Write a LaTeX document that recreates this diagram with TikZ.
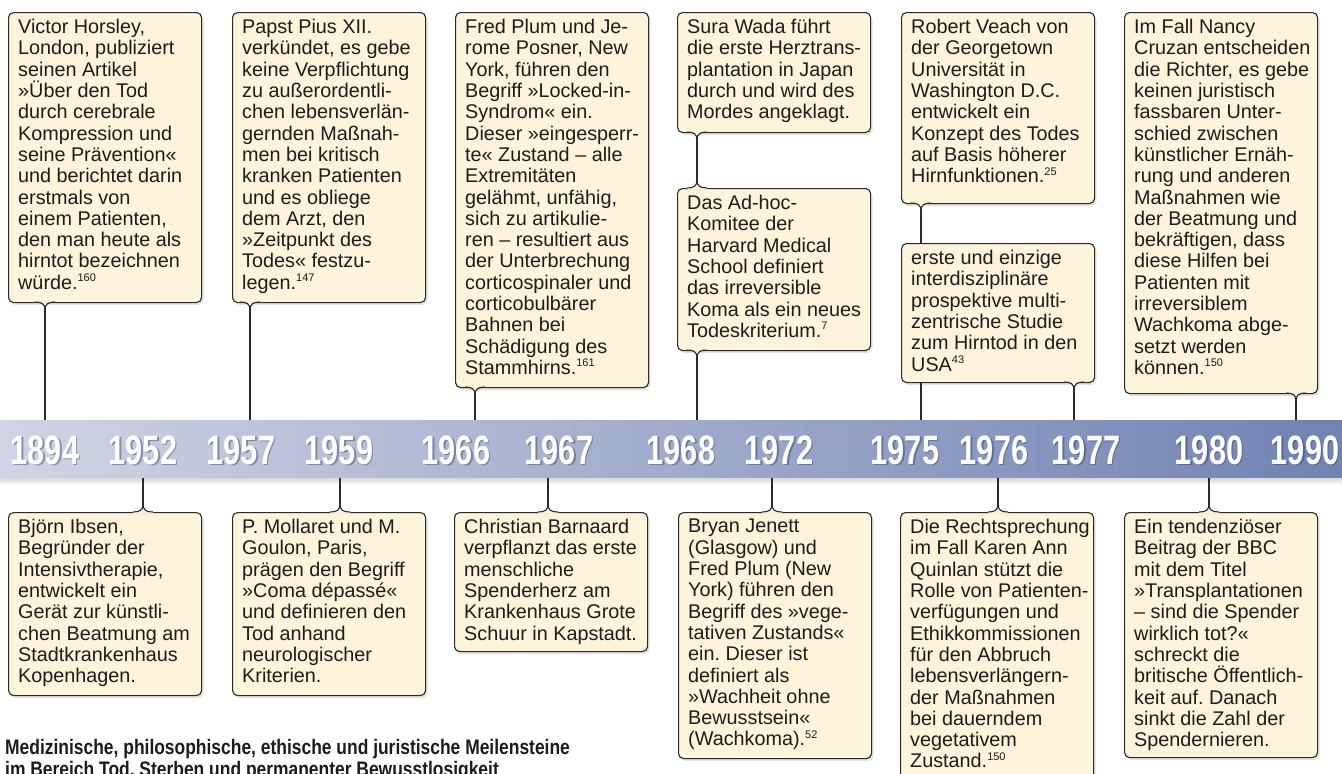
\documentclass[tikz,border=0pt]{standalone}
\usepackage{fontspec}
\setmainfont{Liberation Sans}
\newfontfamily\yearfam[FakeStretch=0.75]{Liberation Sans}
\newfontfamily\capfam[FakeStretch=0.83]{Liberation Sans}
\usetikzlibrary{positioning,shadows}
\frenchspacing
\definecolor{cardfill}{HTML}{FDF4DB}
\definecolor{cardline}{HTML}{2A2A2A}
\definecolor{cardtext}{HTML}{1C1C1C}
\definecolor{bandleft}{RGB}{208,212,228}
\definecolor{bandmid}{RGB}{163,174,202}
\definecolor{bandright}{RGB}{112,131,178}
\definecolor{yearshade}{HTML}{384266}
\newcommand{\cardfont}{\fontsize{19.8}{21.3}\selectfont}
\newcommand{\fnref}[1]{\textsuperscript{\fontsize{11}{11}\selectfont #1}}
% curly tail below a card (x, bottom edge)
\newcommand{\tailbelow}[2]{%
  \fill[cardfill] (#1-10,#2-1.6) -- (#1-10,#2) .. controls (#1-3,#2) and (#1,#2+2) .. (#1,#2+8)
    .. controls (#1,#2+2) and (#1+3,#2) .. (#1+10,#2) -- (#1+10,#2-1.6) -- cycle;
  \draw[cardline,line width=1.1pt] (#1-10,#2) .. controls (#1-3,#2) and (#1,#2+2) .. (#1,#2+8)
    .. controls (#1,#2+2) and (#1+3,#2) .. (#1+10,#2);}
% curly tail above a card (x, top edge)
\newcommand{\tailabove}[2]{%
  \fill[cardfill] (#1-10,#2+1.6) -- (#1-10,#2) .. controls (#1-3,#2) and (#1,#2-2) .. (#1,#2-8)
    .. controls (#1,#2-2) and (#1+3,#2) .. (#1+10,#2) -- (#1+10,#2+1.6) -- cycle;
  \draw[cardline,line width=1.1pt] (#1-10,#2) .. controls (#1-3,#2) and (#1,#2-2) .. (#1,#2-8)
    .. controls (#1,#2-2) and (#1+3,#2) .. (#1+10,#2);}
\tikzset{
  card/.style={draw=cardline, line width=1.1pt, fill=cardfill, rounded corners=5pt,
    anchor=north west, inner sep=0pt, minimum width=193pt,
    drop shadow={opacity=0.22, shadow xshift=2pt, shadow yshift=-2.5pt}},
  cardtxt/.style={anchor=north west, inner sep=0pt, align=left, font=\cardfont,
    text=cardtext, execute at begin node=\strut},
  link/.style={draw=cardline, line width=1.4pt},
  yearlbl/.style={anchor=base, inner sep=0pt, text=white,
    font=\yearfam\bfseries\fontsize{41}{41}\selectfont},
  yearglow/.style={yearlbl, text=yearshade, opacity=0.45},
  caption/.style={anchor=base west, inner sep=0pt, text=cardtext,
    font=\capfam\bfseries\fontsize{21}{23}\selectfont}
}
\begin{document}
\begin{tikzpicture}[x=1pt, y=-1pt]
\useasboundingbox (0,0) rectangle (1342,774);

% timeline band
\shade[left color=bandleft, middle color=bandmid, right color=bandright] (0,420) rectangle (1342,478);
\shade[top color=black!15, bottom color=white] (0,478) rectangle (1342,485);
\foreach \yr/\xx in {1894/45, 1952/143, 1957/241, 1959/339, 1966/456, 1967/559, 1968/681,
    1972/779, 1975/905, 1976/994, 1977/1086, 1980/1209, 1990/1305}{
  \node[yearglow] at (\xx+1.5,465.5) {\yr};
  \node[yearlbl] (y\yr) at (\xx,464) {\yr};
}
\foreach \yr/\xx in {1894/45, 1957/250, 1966/475, 1968/697, 1975/921, 1977/1074, 1990/1296}
  \coordinate (t\yr) at (\xx,420);
\foreach \yr/\xx in {1952/143, 1959/340, 1967/548, 1972/772, 1976/998, 1980/1209}
  \coordinate (b\yr) at (\xx,478);

% cards above
\node[card, minimum height=290] (horsley) at (8,12) {};
\node[card, minimum height=290] (papst) at (232,12) {};
\node[card, minimum height=375] (plum) at (455,12) {};
\node[card, minimum height=120] (wada) at (677,12) {};
\node[card, minimum height=162] (adhoc) at (677,188) {};
\node[card, minimum height=191] (veach) at (901,12) {};
\node[card, minimum height=139] (study) at (901,243) {};
\node[card, minimum height=381] (cruzan) at (1124,12) {};
% cards below
\node[card, minimum height=183] (ibsen) at (8,512) {};
\node[card, minimum height=183] (mollaret) at (232,512) {};
\node[card, minimum height=139] (barnaard) at (454,512) {};
\node[card, minimum height=246] (jenett) at (678,512) {};
\node[card, minimum height=267] (quinlan) at (900,512) {};
\node[card, minimum height=245] (bbc) at (1124,512) {};

\begin{scope}[link]
  \path (horsley.south -| t1894) edge (t1894);
  \path (papst.south -| t1957) edge (t1957);
  \path (plum.south -| t1966) edge (t1966);
  \path (wada.south -| t1968) edge (adhoc.north -| t1968);
  \path (adhoc.south -| t1968) edge (t1968);
  \path (veach.south -| t1975) edge (study.north -| t1975);
  \path (study.south -| t1975) edge (t1975);
  \path (study.south -| t1977) edge (t1977);
  \path (cruzan.south -| t1990) edge (t1990);
  \path (b1952) edge (ibsen.north -| b1952);
  \path (b1959) edge (mollaret.north -| b1959);
  \path (b1967) edge (barnaard.north -| b1967);
  \path (b1972) edge (jenett.north -| b1972);
  \path (b1976) edge (quinlan.north -| b1976);
  \path (b1980) edge (bbc.north -| b1980);
\end{scope}

\tailbelow{45}{302} \tailbelow{250}{302} \tailbelow{475}{387}
\tailbelow{697}{132} \tailbelow{697}{350} \tailbelow{921}{203}
\tailbelow{1074}{382} \tailbelow{1296}{393}
\tailabove{697}{188} \tailabove{143}{512} \tailabove{340}{512}
\tailabove{548}{512} \tailabove{772}{512} \tailabove{998}{512} \tailabove{1209}{512}

% card texts
\node[cardtxt] (horsley-t) at ([shift={(10,7.1)}]horsley.north west) {Victor Horsley,\\London, publiziert\\seinen Artikel\\»Über den Tod\\durch cerebrale\\Kompression und\\seine Prävention«\\und berichtet darin\\erstmals von\\einem Patienten,\\den man heute als\\hirntot bezeichnen\\würde.\fnref{160}};
\node[cardtxt] (papst-t) at ([shift={(10,7.1)}]papst.north west) {Papst Pius XII.\\verkündet, es gebe\\keine Verpflichtung\\zu außerordentli-\\chen lebensverlän-\\gernden Maßnah-\\men bei kritisch\\kranken Patienten\\und es obliege\\dem Arzt, den\\»Zeitpunkt des\\Todes« festzu-\\legen.\fnref{147}};
\node[cardtxt] (plum-t) at ([shift={(10,7.1)}]plum.north west) {Fred Plum und Je-\\rome Posner, New\\York, führen den\\Begriff »Locked-in-\\Syndrom« ein.\\Dieser »eingesperr-\\te« Zustand – alle\\Extremitäten\\gelähmt, unfähig,\\sich zu artikulie-\\ren – resultiert aus\\der Unterbrechung\\corticospinaler und\\corticobulbärer\\Bahnen bei\\Schädigung des\\Stammhirns.\fnref{161}};
\node[cardtxt] (wada-t) at ([shift={(10,7.1)}]wada.north west) {Sura Wada führt\\die erste Herztrans-\\plantation in Japan\\durch und wird des\\Mordes angeklagt.};
\node[cardtxt] (adhoc-t) at ([shift={(10,7.1)}]adhoc.north west) {Das Ad-hoc-\\Komitee der\\Harvard Medical\\School definiert\\das irreversible\\Koma als ein neues\\Todeskriterium.\fnref{7}};
\node[cardtxt] (veach-t) at ([shift={(10,7.1)}]veach.north west) {Robert Veach von\\der Georgetown\\Universität in\\Washington D.C.\\entwickelt ein\\Konzept des Todes\\auf Basis höherer\\Hirnfunktionen.\fnref{25}};
\node[cardtxt] (study-t) at ([shift={(10,7.1)}]study.north west) {erste und einzige\\interdisziplinäre\\prospektive multi-\\zentrische Studie\\zum Hirntod in den\\USA\fnref{43}};
\node[cardtxt] (cruzan-t) at ([shift={(10,7.1)}]cruzan.north west) {Im Fall Nancy\\Cruzan entscheiden\\die Richter, es gebe\\keinen juristisch\\fassbaren Unter-\\schied zwischen\\künstlicher Ernäh-\\rung und anderen\\Maßnahmen wie\\der Beatmung und\\bekräftigen, dass\\diese Hilfen bei\\Patienten mit\\irreversiblem\\Wachkoma abge-\\setzt werden\\können.\fnref{150}};
\node[cardtxt] (ibsen-t) at ([shift={(10,7.1)}]ibsen.north west) {Björn Ibsen,\\Begründer der\\Intensivtherapie,\\entwickelt ein\\Gerät zur künstli-\\chen Beatmung am\\Stadtkrankenhaus\\Kopenhagen.};
\node[cardtxt] (mollaret-t) at ([shift={(10,7.1)}]mollaret.north west) {P. Mollaret und M.\\Goulon, Paris,\\prägen den Begriff\\»Coma dépassé«\\und definieren den\\Tod anhand\\neurologischer\\Kriterien.};
\node[cardtxt] (barnaard-t) at ([shift={(10,7.1)}]barnaard.north west) {Christian Barnaard\\verpflanzt das erste\\menschliche\\Spenderherz am\\Krankenhaus Grote\\Schuur in Kapstadt.};
\node[cardtxt] (jenett-t) at ([shift={(10,7.1)}]jenett.north west) {Bryan Jenett\\(Glasgow) und\\Fred Plum (New\\York) führen den\\Begriff des »vege-\\tativen Zustands«\\ein. Dieser ist\\definiert als\\»Wachheit ohne\\Bewusstsein«\\(Wachkoma).\fnref{52}};
\node[cardtxt] (quinlan-t) at ([shift={(10,7.1)}]quinlan.north west) {Die Rechtsprechung\\im Fall Karen Ann\\Quinlan stützt die\\Rolle von Patienten-\\verfügungen und\\Ethikkommissionen\\für den Abbruch\\lebensverlängern-\\der Maßnahmen\\bei dauerndem\\vegetativem\\Zustand.\fnref{150}};
\node[cardtxt] (bbc-t) at ([shift={(10,7.1)}]bbc.north west) {Ein tendenziöser\\Beitrag der BBC\\mit dem Titel\\»Transplantationen\\– sind die Spender\\wirklich tot?«\\schreckt die\\britische Öffentlich-\\keit auf. Danach\\sinkt die Zahl der\\Spendernieren.};

% caption
\node[caption] (cap1) at (5,754) {Medizinische, philosophische, ethische und juristische Meilensteine};
\node[caption] (cap2) at (5,776) {im Bereich Tod, Sterben und permanenter Bewusstlosigkeit};
\end{tikzpicture}
\end{document}
